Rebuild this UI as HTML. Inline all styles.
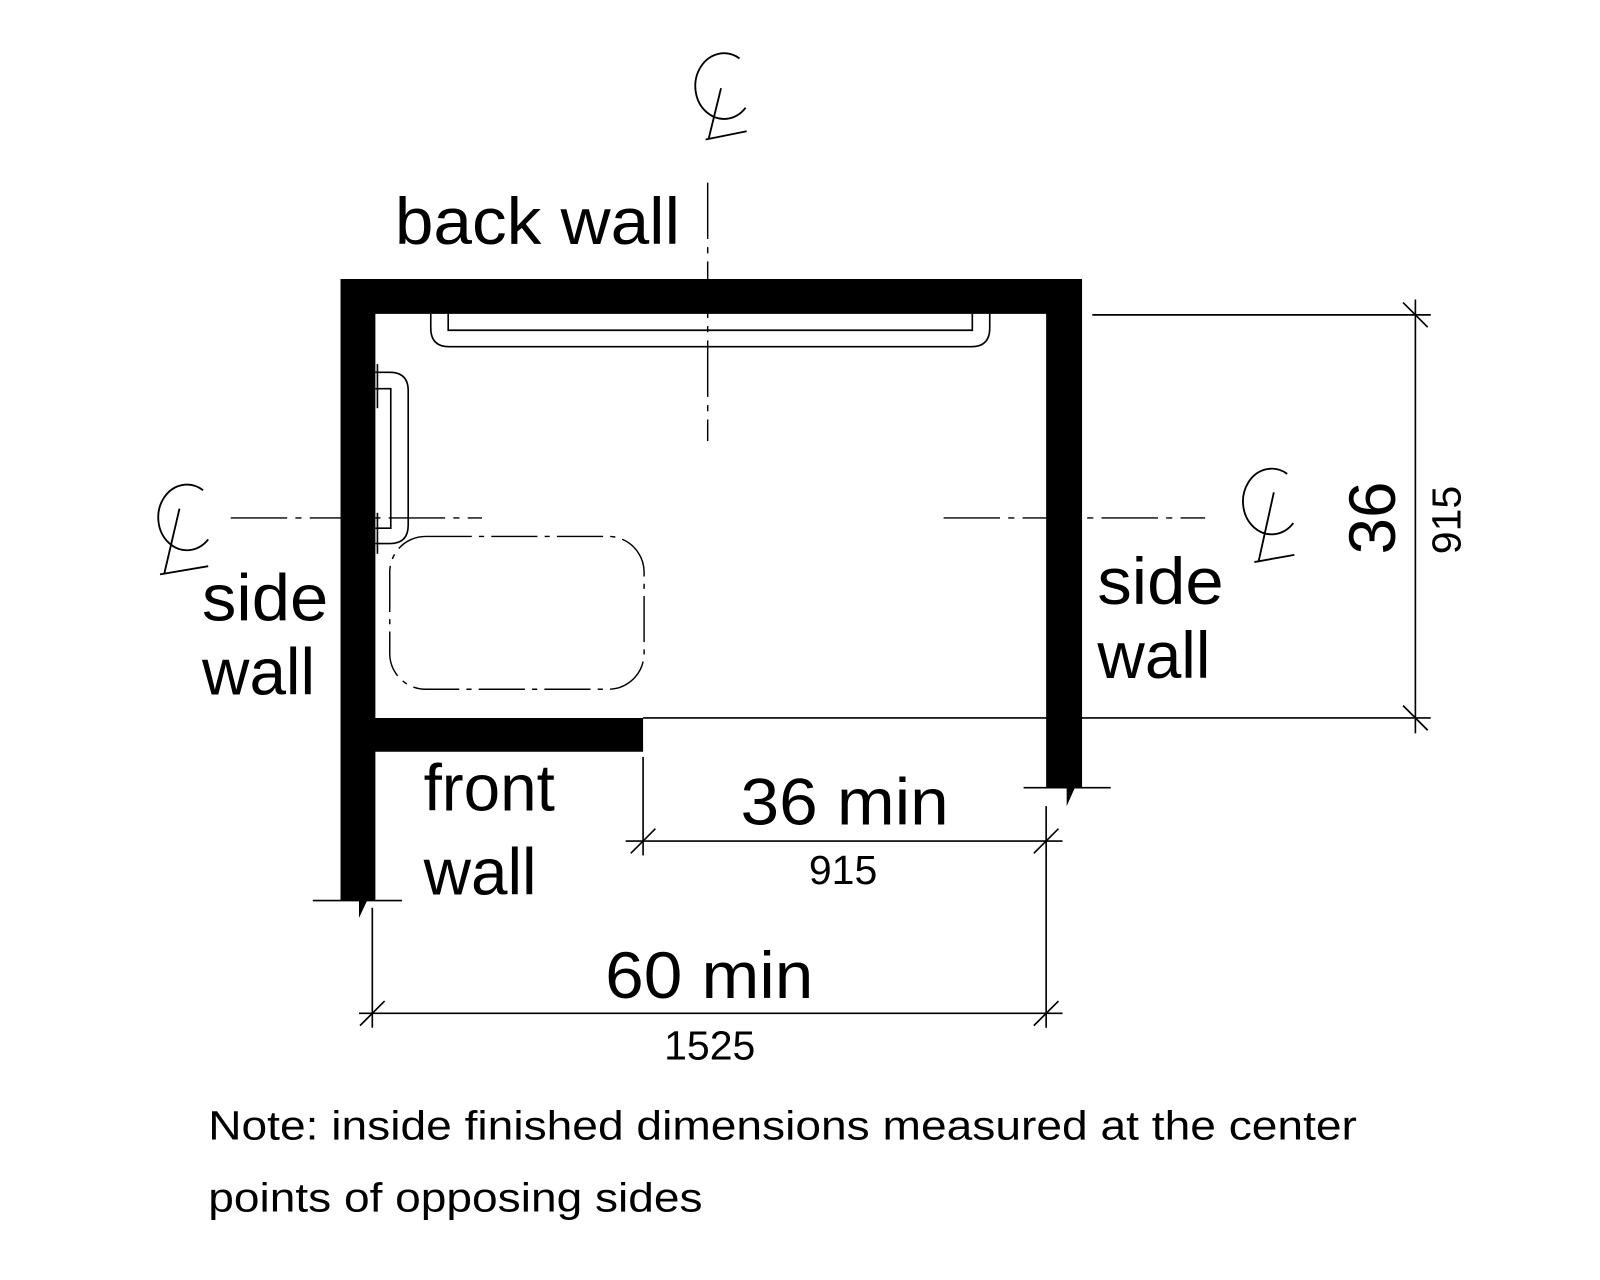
<!DOCTYPE html>
<html><head><style>html,body{margin:0;padding:0;background:#fff}svg{display:block}</style></head>
<body>
<svg width="1600" height="1280" viewBox="0 0 1560 1248" xmlns="http://www.w3.org/2000/svg" font-family="Liberation Sans, Arial, sans-serif">
<rect width="1560" height="1248" fill="#fff"/>
<path d="M332 272 H1055 V768 L1048 768 L1040 786 L1040 768 L1020 768 V306 H366 V700 H627 V733 H366 V878 L358 878 L350 895 L350 878 L332 878 Z" fill="#000"/>
<g stroke="#000" stroke-width="1.6" fill="none">
<line x1="305" y1="878" x2="392" y2="878"/>
<line x1="998" y1="768" x2="1083" y2="768"/>
<line x1="627" y1="700" x2="1395" y2="700"/>
<line x1="1065" y1="307" x2="1395" y2="307"/>
<line x1="1380" y1="292" x2="1380" y2="715"/>
<line x1="1368" y1="295" x2="1392" y2="319"/>
<line x1="1368" y1="688" x2="1392" y2="712"/>
<line x1="610" y1="820" x2="1036" y2="820"/>
<line x1="627" y1="738" x2="627" y2="834"/>
<line x1="1020" y1="786" x2="1020" y2="1002"/>
<line x1="615" y1="832" x2="639" y2="808"/>
<line x1="1008" y1="832" x2="1032" y2="808"/>
<line x1="350" y1="988" x2="1036" y2="988"/>
<line x1="363" y1="885" x2="363" y2="1002"/>
<line x1="351" y1="1000" x2="375" y2="976"/>
<line x1="1008" y1="1000" x2="1032" y2="976"/>
<path d="M420 306 V320 Q420 338 438 338 H947 Q965 338 965 320 V306"/>
<path d="M437 306 V322 H948 V306"/>
<path d="M366 363 H380 Q398 363 398 381 V512 Q398 530 380 530 H366"/>
<path d="M366 379 H381 V515 H366"/>
<line x1="368" y1="355" x2="368" y2="398"/>
<line x1="368" y1="500" x2="368" y2="540"/>
</g>
<g stroke="#000" stroke-width="1.4" fill="none" stroke-dasharray="55 8 6 8">
<line x1="690" y1="178" x2="690" y2="430"/>
<line x1="225" y1="505" x2="470" y2="505"/>
<line x1="920" y1="505" x2="1175" y2="505"/>
<rect x="380" y="523" width="248" height="149" rx="35" stroke-dasharray="45 7 5 7"/>
</g>
<g stroke="#000" stroke-width="1.8" fill="none">
<path d="M721 57 A28 32 0 1 0 727 105"/>
<path d="M703 86 L691 135 M688 136 L728 128"/>
<path d="M198 478 A28 32 0 1 0 203 526"/>
<path d="M175 496 L160 560 M156 560 L203 552"/>
<path d="M1255 462 A28 32 0 1 0 1261 510"/>
<path d="M1242 480 L1227 548 M1223 548 L1262 541"/>
</g>
<g fill="#000" font-size="64">
<text x="385" y="238" textLength="278" lengthAdjust="spacingAndGlyphs">back wall</text>
<text x="197" y="605" textLength="123" lengthAdjust="spacingAndGlyphs">side</text>
<text x="197" y="677">wall</text>
<text x="1070" y="589" textLength="123" lengthAdjust="spacingAndGlyphs">side</text>
<text x="1070" y="661">wall</text>
<text x="413" y="790">front</text>
<text x="413" y="872">wall</text>
<text x="722" y="804" textLength="203" lengthAdjust="spacingAndGlyphs">36 min</text>
<text x="590" y="973" textLength="203" lengthAdjust="spacingAndGlyphs">60 min</text>
<text transform="translate(1360,505) rotate(-90)" text-anchor="middle">36</text>
</g>
<g fill="#000" font-size="40">
<text x="822" y="862" text-anchor="middle">915</text>
<text x="692" y="1033" text-anchor="middle">1525</text>
<text transform="translate(1424,507) rotate(-90)" text-anchor="middle">915</text>
<text x="203" y="1111" textLength="1120" lengthAdjust="spacingAndGlyphs">Note: inside finished dimensions measured at the center</text>
<text x="203" y="1181" textLength="482" lengthAdjust="spacingAndGlyphs">points of opposing sides</text>
</g>
</svg>
</body></html>
